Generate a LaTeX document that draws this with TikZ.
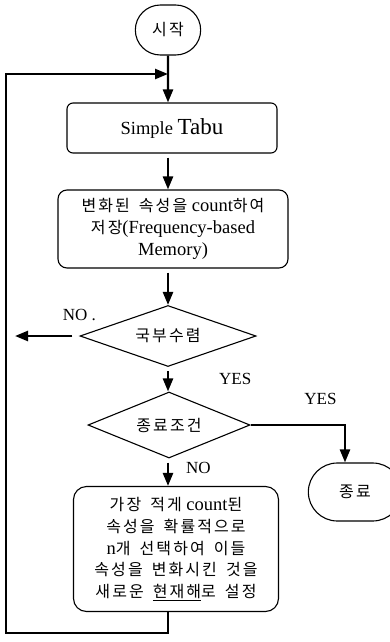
\documentclass[tikz,border=0pt]{standalone}
\usepackage{fontspec}
\setmainfont{Liberation Serif}
\newfontfamily\kr[LetterSpace=13, WordSpace=1.6]{Noto Sans CJK KR}
\usetikzlibrary{shapes.geometric, shapes.misc, positioning, arrows.meta}
\newcommand{\ko}[1]{{\kr\fontsize{16}{21.7}\selectfont #1}}

\begin{document}
\begin{tikzpicture}[x=1pt, y=1pt, >={Triangle[length=13pt, width=10pt]},
    term/.style={draw, rounded rectangle, line width=1.1pt, minimum height=50pt},
    box/.style={draw, rectangle, line width=1.1pt, align=center, font=\fontsize{18.5}{21.7}\selectfont},
    test/.style={draw, diamond, aspect=2.8, inner sep=0pt, line width=1.1pt},
    flow/.style={->, line width=2.4pt},
    lbl/.style={font=\fontsize{17}{20}\selectfont, inner sep=0pt}]
    \useasboundingbox (0,0) rectangle (389,-642);

    \node[term, minimum width=72pt] (start) at (168,-30) {\ko{시작}};
    \node[box, minimum width=210pt, minimum height=50pt, rounded corners=6pt] (tabu) at (172,-128)
        {Simple {\fontsize{23}{25}\selectfont Tabu}};
    \node[box, minimum width=230pt, minimum height=78pt, rounded corners=9pt] (memory) at (173,-229)
        {\ko{변화된 속성을} count\ko{하여}\\ \ko{저장}(Frequency-based\\ Memory)};
    \node[test, minimum width=176pt, minimum height=61pt] (local) at (168,-336) {\ko{국부수렴}};
    \node[test, minimum width=162pt, minimum height=66pt] (stop) at (169,-425) {\ko{종료조건}};
    \node[box, minimum width=205pt, minimum height=125pt, rounded corners=13pt] (update) at (176,-549)
        {\ko{가장 적게} count\ko{된}\\ \ko{속성을 확률적으로}\\ n\ko{개 선택하여 이들}\\
         \ko{속성을 변화시킨 것을}\\ \ko{새로운 \underline{현재해}로 설정}};
    \node[term, minimum width=100pt, minimum height=58pt] (end) at (355,-492) {\ko{종료}};

    \coordinate (join) at (168,-74);
    \coordinate (noend) at (15,-336);
    \coordinate (loopbot) at (6,-633);

    \draw[flow] (start) -- (tabu.north -| start);
    \draw[flow, shorten <=4pt] (tabu.south -| start) -- (memory.north -| start);
    \draw[flow, shorten <=4pt] (memory.south -| start) -- (local.north);
    \draw[flow, shorten <=7pt] (local.west) -- node[lbl, pos=0, above=14pt] {NO .} (noend);
    \draw[flow, shorten <=4pt] (local.south) -- node[lbl, right=50pt] {YES} (stop.north -| start);
    \draw[flow] (stop.east) -| node[lbl, pos=0.37, above=19pt] {YES} ([xshift=-10pt]end.north);
    \draw[flow, shorten <=4pt] (stop.south -| start) -- node[lbl, right=17pt, yshift=4pt] {NO} (update.north -| start);
    \draw[flow] (update.south -| start) |- (loopbot) |- (join);
\end{tikzpicture}
\end{document}
